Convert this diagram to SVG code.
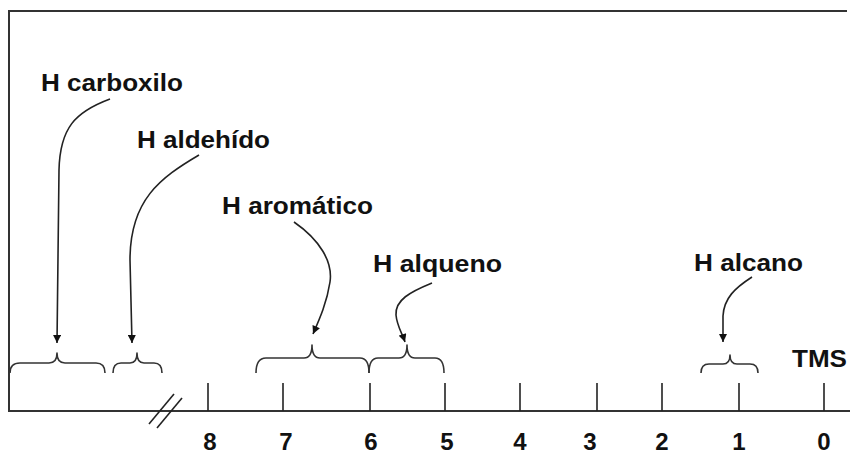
<svg xmlns="http://www.w3.org/2000/svg" width="850" height="456" viewBox="0 0 850 456">
  <style>
    .frame { fill: none; stroke: #333; stroke-width: 2; }
    .tick { stroke: #222; stroke-width: 1.6; }
    .brace { fill: none; stroke: #333; stroke-width: 1.6; stroke-linejoin: round; }
    .conn { fill: none; stroke: #222; stroke-width: 1.6; }
    .lbl { font-family: "Liberation Sans", Arial, sans-serif; font-weight: bold; font-size: 24px; fill: #111; }
    .num { font-family: "Liberation Sans", Arial, sans-serif; font-weight: bold; font-size: 24px; fill: #111; text-anchor: middle; }
  </style>
  <defs>
    <marker id="arrow" viewBox="0 0 10 10" refX="10" refY="5" markerWidth="10" markerHeight="8" markerUnits="userSpaceOnUse" orient="auto">
      <path d="M0,0 L10,5 L0,10 z" fill="#111"/>
    </marker>
  </defs>
  <rect width="850" height="456" fill="#fff"/>

  <g id="axis">
    <path class="frame" d="M847,11 H9 V411 H850"/>
    <line class="tick" x1="149" y1="424" x2="174" y2="394"/>
    <line class="tick" x1="157" y1="428" x2="182" y2="398"/>
  </g>

  <g id="ticks">
    <line class="tick" x1="208" y1="383" x2="208" y2="411"/>
    <line class="tick" x1="283" y1="383" x2="283" y2="411"/>
    <line class="tick" x1="370" y1="383" x2="370" y2="411"/>
    <line class="tick" x1="445" y1="383" x2="445" y2="411"/>
    <line class="tick" x1="520" y1="383" x2="520" y2="411"/>
    <line class="tick" x1="597" y1="383" x2="597" y2="411"/>
    <line class="tick" x1="662" y1="383" x2="662" y2="411"/>
    <line class="tick" x1="739" y1="383" x2="739" y2="411"/>
    <line class="tick" x1="824" y1="383" x2="824" y2="411"/>
  </g>

  <g id="scale-numbers">
    <text class="num" x="210" y="450">8</text>
    <text class="num" x="286" y="450">7</text>
    <text class="num" x="371" y="450">6</text>
    <text class="num" x="447" y="450">5</text>
    <text class="num" x="520" y="450">4</text>
    <text class="num" x="590" y="450">3</text>
    <text class="num" x="662" y="450">2</text>
    <text class="num" x="739" y="450">1</text>
    <text class="num" x="824" y="450">0</text>
  </g>

  <g id="braces">
    <path class="brace" d="M10,373 Q10,363 20,363 L49,363 Q57,363 57,353 Q57,363 65,363 L96,363 Q105,363 105,373"/>
    <path class="brace" d="M113,373 Q113,363 121,363 L130,363 Q137,363 137,353 Q137,363 144,363 L154,363 Q162,363 162,373"/>
    <path class="brace" d="M256,373 Q256,358 266,358 L304,358 Q312,358 312,345 Q312,358 320,358 L360,358 Q369,358 369,373"/>
    <path class="brace" d="M369,373 Q369,358 378,358 L399,358 Q407,358 407,345 Q407,358 415,358 L435,358 Q444,358 444,373"/>
    <path class="brace" d="M701,373 Q701,364 709,364 L723,364 Q730,364 730,355 Q730,364 737,364 L750,364 Q758,364 758,373"/>
  </g>

  <g id="label-carboxilo"><text class="lbl" x="41" y="91" textLength="142" lengthAdjust="spacingAndGlyphs">H carboxilo</text></g>
  <g id="label-aldehido"><text class="lbl" x="137" y="148" textLength="133" lengthAdjust="spacingAndGlyphs">H aldehído</text></g>
  <g id="label-aromatico"><text class="lbl" x="222" y="214" textLength="151" lengthAdjust="spacingAndGlyphs">H aromático</text></g>
  <g id="label-alqueno"><text class="lbl" x="373" y="272" textLength="129" lengthAdjust="spacingAndGlyphs">H alqueno</text></g>
  <g id="label-alcano"><text class="lbl" x="694" y="271" textLength="109" lengthAdjust="spacingAndGlyphs">H alcano</text></g>
  <g id="label-tms"><text class="lbl" x="792" y="367" textLength="55" lengthAdjust="spacingAndGlyphs">TMS</text></g>

  <g id="connectors">
    <path class="conn" marker-end="url(#arrow)" d="M110,99 C75,112 60,128 59,170 L57,343"/>
    <path class="conn" marker-end="url(#arrow)" d="M199,155 C160,178 130,200 130,260 L132,343"/>
    <path class="conn" marker-end="url(#arrow)" d="M294,222 C320,240 333,262 330,282 C327,302 320,318 313,334"/>
    <path class="conn" marker-end="url(#arrow)" d="M432,283 C410,292 395,300 396,315 C397,326 402,333 405,342"/>
    <path class="conn" marker-end="url(#arrow)" d="M752,277 C735,288 724,298 723,316 L723,342"/>
  </g>
</svg>
